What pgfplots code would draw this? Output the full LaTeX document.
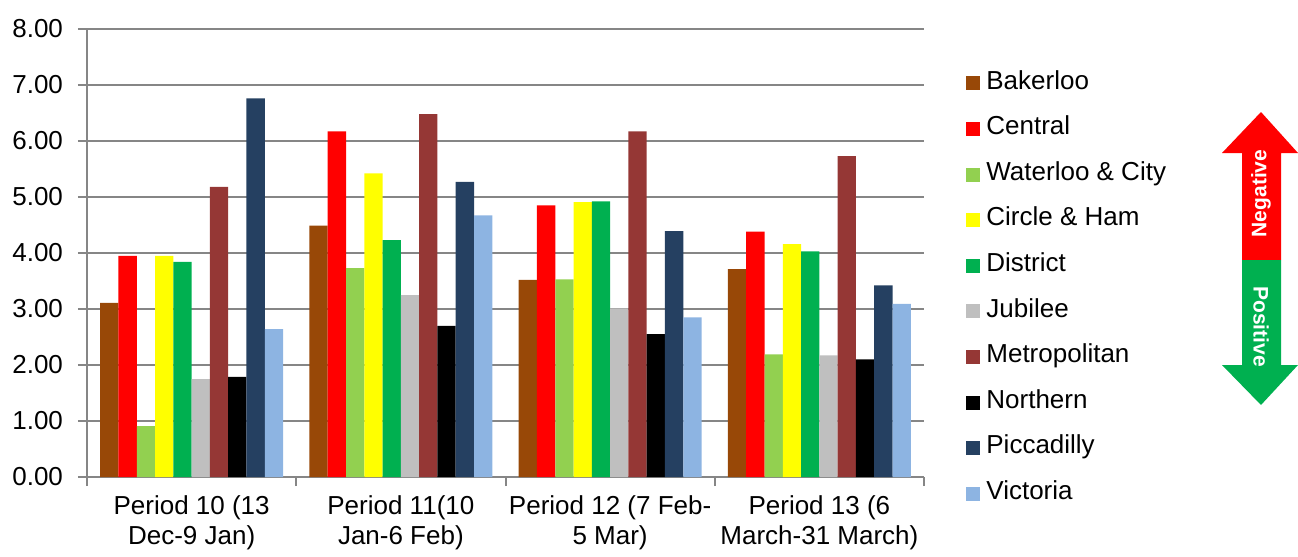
\documentclass[border=0pt]{standalone}
\usepackage{pgfplots}
\pgfplotsset{compat=1.18}
\usepackage{fontspec}
\setmainfont{Liberation Sans}
\definecolor{gridc}{RGB}{134,134,134}
\definecolor{cBak}{RGB}{152,72,7}
\definecolor{cCen}{RGB}{255,0,0}
\definecolor{cWat}{RGB}{146,208,80}
\definecolor{cCir}{RGB}{255,255,0}
\definecolor{cDis}{RGB}{0,176,80}
\definecolor{cJub}{RGB}{191,191,191}
\definecolor{cMet}{RGB}{149,55,53}
\definecolor{cNor}{RGB}{0,0,0}
\definecolor{cPic}{RGB}{37,64,97}
\definecolor{cVic}{RGB}{141,180,226}
\definecolor{arrR}{RGB}{255,0,0}
\definecolor{arrG}{RGB}{0,176,80}

\begin{document}
\begin{tikzpicture}
\path (-43.5pt,-37.5pt) rectangle (605.5pt,238.5pt);
\begin{axis}[
  at={(0pt,0pt)}, anchor=south west,
  scale only axis, width=418.5pt, height=224pt,
  ybar=0pt, bar width=0.0874,
  xmin=-0.5, xmax=3.5, ymin=0, ymax=8,
  ytick={0,1,2,3,4,5,6,7,8},
  yticklabel style={/pgf/number format/fixed, /pgf/number format/fixed zerofill, /pgf/number format/precision=2, xshift=-4pt},
  /pgf/number format/assume math mode=true,
  font=\fontsize{13pt}{15pt}\selectfont,
  ymajorgrids, grid style={gridc, line width=1pt},
  axis x line*=bottom, axis y line*=left,
  axis line style={gridc, line width=1pt, -},
  tick align=outside, major tick length=4.5pt, minor tick length=4.5pt,
  tick style={gridc, line width=1pt},
  xtick={0,1,2,3},
  every major x tick/.append style={draw=none},
  minor xtick={-0.5,0.5,1.5,2.5,3.5},
  xticklabels={{Period 10 (13\\Dec-9 Jan)},{Period 11(10\\Jan-6 Feb)},{Period 12 (7 Feb-\\5 Mar)},{Period 13 (6\\March-31 March)}},
  xticklabel style={align=center, yshift=-1.5pt},
  legend cell align=left,
  legend style={at={(1,1)}, anchor=north west, xshift=21pt, yshift=-20.5pt,
    draw=none, inner sep=0pt, row sep=9.8pt, column sep=0pt,
    nodes={text height=9.3pt, text depth=3.7pt, inner ysep=0pt, inner xsep=3pt},
    font=\fontsize{13pt}{15pt}\selectfont},
  legend image code/.code={\fill[#1] (0pt,-3.5pt) rectangle (7pt,3.5pt);},
]
\addplot[fill=cBak, draw=none] coordinates {(0,3.11)(1,4.49)(2,3.52)(3,3.71)};
\addlegendentry{Bakerloo}
\addplot[fill=cCen, draw=none] coordinates {(0,3.95)(1,6.17)(2,4.85)(3,4.38)};
\addlegendentry{Central}
\addplot[fill=cWat, draw=none] coordinates {(0,0.91)(1,3.73)(2,3.53)(3,2.19)};
\addlegendentry{Waterloo \& City}
\addplot[fill=cCir, draw=none] coordinates {(0,3.95)(1,5.42)(2,4.91)(3,4.16)};
\addlegendentry{Circle \& Ham}
\addplot[fill=cDis, draw=none] coordinates {(0,3.84)(1,4.23)(2,4.92)(3,4.03)};
\addlegendentry{District}
\addplot[fill=cJub, draw=none] coordinates {(0,1.75)(1,3.25)(2,3.01)(3,2.17)};
\addlegendentry{Jubilee}
\addplot[fill=cMet, draw=none] coordinates {(0,5.18)(1,6.48)(2,6.17)(3,5.73)};
\addlegendentry{Metropolitan}
\addplot[fill=cNor, draw=none] coordinates {(0,1.79)(1,2.70)(2,2.55)(3,2.10)};
\addlegendentry{Northern}
\addplot[fill=cPic, draw=none] coordinates {(0,6.76)(1,5.27)(2,4.39)(3,3.42)};
\addlegendentry{Piccadilly}
\addplot[fill=cVic, draw=none] coordinates {(0,2.64)(1,4.67)(2,2.85)(3,3.09)};
\addlegendentry{Victoria}
\end{axis}
% direction arrow
\fill[arrR] (587pt,182.5pt) -- (605.5pt,162pt) -- (597pt,162pt) -- (597pt,108.5pt)
  -- (577.5pt,108.5pt) -- (577.5pt,162pt) -- (567.5pt,162pt) -- cycle;
\fill[arrG] (577.5pt,108.5pt) -- (597pt,108.5pt) -- (597pt,56pt) -- (605.5pt,56pt)
  -- (587pt,36pt) -- (567.5pt,56pt) -- (577.5pt,56pt) -- cycle;
\node[rotate=90, text=white, font=\fontsize{10.5pt}{12pt}\selectfont\bfseries] at (587pt,141.75pt) {Negative};
\node[rotate=-90, text=white, font=\fontsize{10.5pt}{12pt}\selectfont\bfseries] at (587pt,75.2pt) {Positive};
\end{tikzpicture}
\end{document}
